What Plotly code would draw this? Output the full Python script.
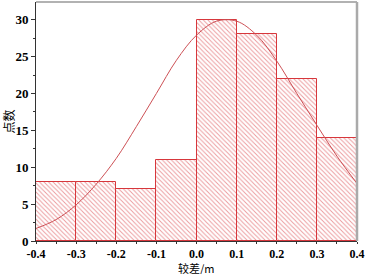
import plotly.graph_objects as go

bin_centers = [-0.35, -0.25, -0.15, -0.05, 0.05, 0.15, 0.25, 0.35]
counts = [8, 8, 7, 11, 30, 28, 22, 14]
curve_x = [-0.4, -0.35, -0.3, -0.25, -0.2, -0.15, -0.1, -0.05, 0.0, 0.05, 0.1,
           0.15, 0.2, 0.25, 0.3, 0.35, 0.4]
curve_y = [1.7, 2.9, 4.9, 7.7, 11.2, 15.5, 20.0, 24.5, 27.9, 29.8, 29.8,
           27.9, 24.4, 20.0, 15.7, 11.5, 7.8]
x_ticks = [-0.4, -0.3, -0.2, -0.1, 0.0, 0.1, 0.2, 0.3, 0.4]
x_tick_text = ["-0.4", "-0.3", "-0.2", "-0.1", "0.0", "0.1", "0.2", "0.3", "0.4"]
y_ticks = [0, 5, 10, 15, 20, 25, 30]

red = "rgb(215,55,60)"
serif = "Liberation Serif"
cjk = "Noto Sans CJK SC"

fig = go.Figure()
fig.add_trace(go.Bar(
    x=bin_centers, y=counts, width=0.1,
    marker=dict(color="white", line=dict(color=red, width=1),
                pattern=dict(shape="\\", fgcolor=red, bgcolor="white",
                             size=3.2, solidity=0.3, fillmode="overlay")),
    showlegend=False,
))
fig.add_trace(go.Scatter(
    x=curve_x, y=curve_y, mode="lines", line=dict(color="rgb(205,80,85)", width=1, shape="spline"),
    showlegend=False,
))

xtickfont = dict(family=serif, size=12, color="black", weight="bold")
ytickfont = dict(family=serif, size=13, color="black", weight="bold")
fig.update_layout(
    width=365, height=274,
    margin=dict(l=36, r=8, t=2, b=33),
    paper_bgcolor="white", plot_bgcolor="white",
    bargap=0,
    xaxis=dict(range=[-0.4, 0.4], tickvals=x_ticks, ticktext=x_tick_text, automargin=False,
               ticks="outside", ticklen=2, tickcolor="#333", ticklabeloverflow="allow",
               minor=dict(ticks="outside", ticklen=2, dtick=0.05, tickcolor="#333"),
               showline=True, linecolor="#333", linewidth=1, showgrid=False, zeroline=False,
               tickfont=xtickfont),
    yaxis=dict(range=[0, 32.4], tickvals=y_ticks, automargin=False,
               ticks="outside", ticklen=4, tickcolor="#333", ticklabeloverflow="allow",
               minor=dict(ticks="outside", ticklen=2, dtick=2.5, tickcolor="#333"),
               showline=True, linecolor="#333", linewidth=1, showgrid=False, zeroline=False,
               tickfont=ytickfont),
    annotations=[
        dict(text="较差/m", xref="paper", yref="paper", x=0.5, y=0, yshift=-18,
             xanchor="center", yanchor="top", showarrow=False, borderpad=0,
             font=dict(family=cjk, size=11, color="black")),
        dict(text="点数", xref="paper", yref="paper", x=0, y=0.5, xshift=-28,
             xanchor="center", yanchor="middle", showarrow=False, textangle=-90,
             font=dict(family=cjk, size=12, color="black")),
    ],
    shapes=[
        dict(type="line", xref="paper", yref="paper", x0=0, x1=1, y0=1, y1=1,
             line=dict(color="#999", width=1.5)),
        dict(type="line", xref="paper", yref="paper", x0=1, x1=1, y0=0, y1=1,
             line=dict(color="#aaa", width=2.5)),
    ],
)
fig.write_html("out.html", config={"displayModeBar": False},
               post_script="document.body.style.margin='0';")
